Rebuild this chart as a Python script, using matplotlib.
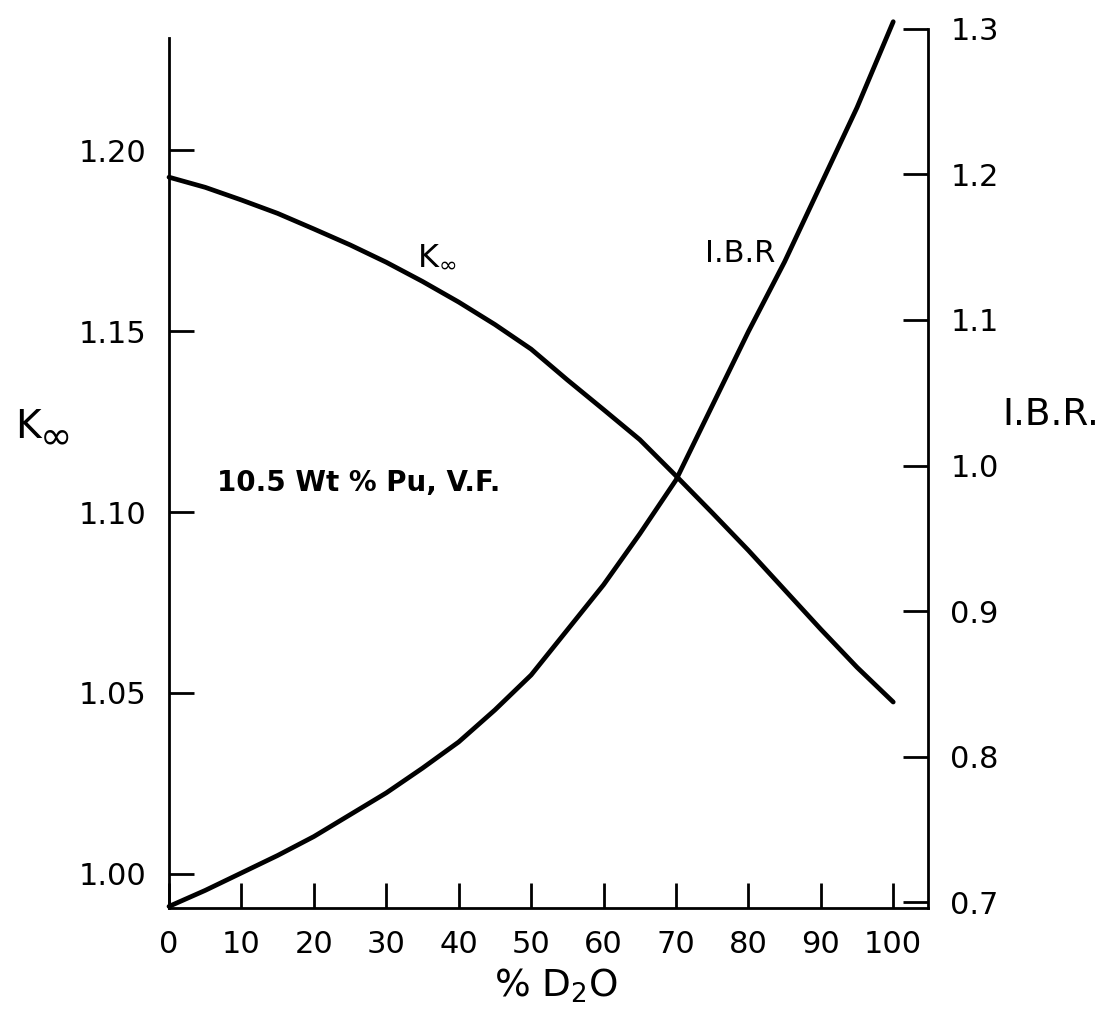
import numpy as np
import matplotlib.pyplot as plt

plt.rcParams['font.family'] = ['DejaVu Sans']
plt.rcParams['mathtext.fontset'] = 'dejavusans'

# % D2O in the moderator
d2o = [0, 5, 10, 15, 20, 25, 30, 35, 40, 45, 50, 55, 60, 65, 70, 75, 80, 85, 90, 95, 100]
# infinite multiplication factor
k_inf = [1.1925, 1.1897, 1.1862, 1.1825, 1.1782, 1.1738, 1.1690, 1.1637, 1.1580, 1.1518, 1.1450,
         1.1365, 1.1283, 1.1200, 1.1100, 1.0998, 1.0894, 1.0785, 1.0676, 1.0571, 1.0475]
# initial breeding ratio
ibr = [0.697, 0.708, 0.720, 0.732, 0.745, 0.760, 0.775, 0.792, 0.810, 0.832, 0.856,
       0.887, 0.918, 0.953, 0.990, 1.041, 1.092, 1.140, 1.193, 1.246, 1.305]

k_ticks = [1.00, 1.05, 1.10, 1.15, 1.20]
ibr_ticks = [0.7, 0.8, 0.9, 1.0, 1.1, 1.2, 1.3]
x_ticks = [0, 10, 20, 30, 40, 50, 60, 70, 80, 90, 100]

fig = plt.figure(figsize=(11.05, 10.24), dpi=100)
ax = fig.add_axes([169 / 1105, 116 / 1024, 759 / 1105, 885 / 1024])
ax2 = ax.twinx()

line_kw = dict(color='black', linewidth=3.4, solid_capstyle='round',
               solid_joinstyle='round', clip_on=False)
ax.plot(d2o, k_inf, **line_kw)
ax2.plot(d2o, ibr, **line_kw)

ax.set_xlim(0, 104.8)
ax.set_ylim(0.9906, 1.2351)
ax2.set_ylim(0.6959, 1.3041)

for a in (ax, ax2):
    a.spines['top'].set_visible(False)
    for s in a.spines.values():
        s.set_linewidth(2)
ax.spines['right'].set_visible(False)
ax2.spines['left'].set_visible(False)
ax2.spines['bottom'].set_visible(False)
ax.spines['left'].set_bounds(0.9906, 1.231)
ax2.spines['right'].set_bounds(0.6959, 1.3)

ax.set_xticks(x_ticks)
ax.set_xticklabels([str(v) for v in x_ticks])
ax.set_yticks(k_ticks)
ax.set_yticklabels(['%.2f' % v for v in k_ticks])
ax2.set_yticks(ibr_ticks)
ax2.set_yticklabels(['%.1f' % v for v in ibr_ticks])

ax.tick_params(axis='both', direction='in', length=18, width=2, labelsize=22, pad=16)
ax.tick_params(axis='x', pad=16)
ax2.tick_params(axis='y', direction='in', length=18, width=2, labelsize=22, pad=16)

# curve labels and note
ax.text(34.3, 1.1682, r'K$_\infty$', fontsize=23, ha='left', va='baseline')
ax2.text(74.0, 1.140, 'I.B.R', fontsize=22, ha='left', va='baseline')
ax.text(6.6, 1.108, '10.5 Wt % Pu, V.F.', fontsize=20, fontweight='bold', ha='left', va='center')

# axis titles
fig.text(15 / 1105, 1 - 438 / 1024, 'K', fontsize=28, ha='left', va='baseline')
fig.text(40 / 1105, 1 - 448 / 1024, '\u221e', fontsize=28, ha='left', va='baseline')
fig.text(1002 / 1105, 1 - 425 / 1024, 'I.B.R.', fontsize=27, ha='left', va='baseline')
fig.text(556 / 1105, 1 - 997 / 1024, r'% D$_\mathregular{2}$O', fontsize=27, ha='center', va='baseline')

fig.savefig('out.png', dpi=100)
